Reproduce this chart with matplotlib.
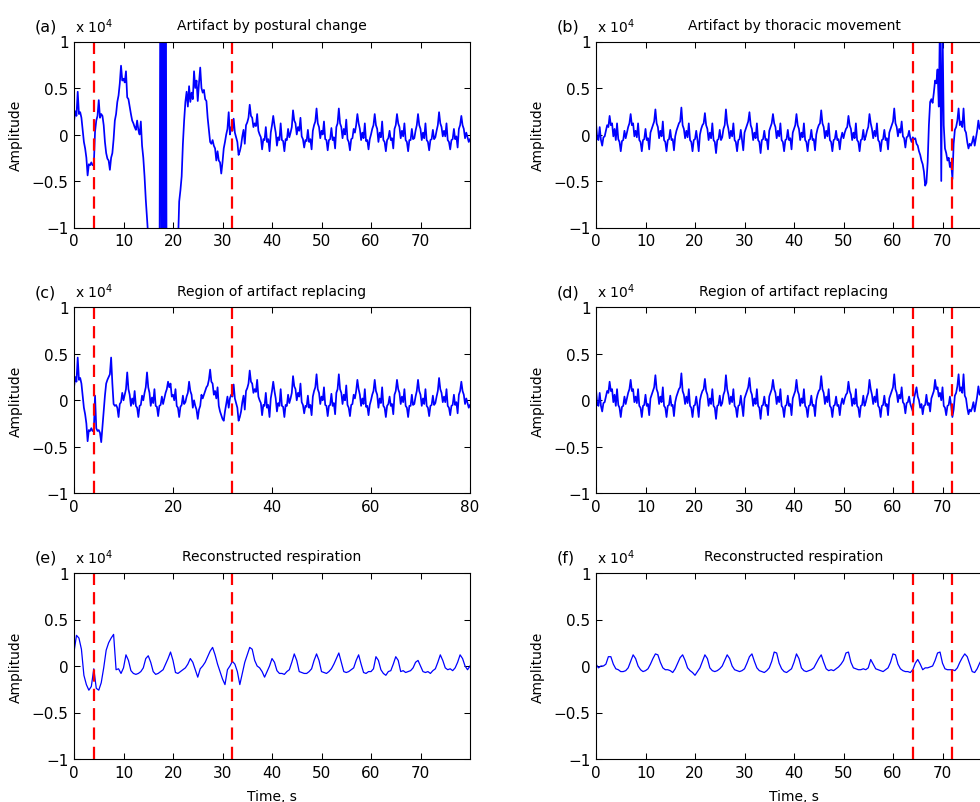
import matplotlib
matplotlib.use("Agg")
import matplotlib.pyplot as plt
import numpy as np

# amplitudes are in hundredths of 1e4 (plot units x 100), sampled every STEP s
STEP = 0.25
RESP_STEP = 0.5

# (a)/(c): shared head 0-4 s, artifact 4-32 s, shared tail 32-80 s
POSTURE_HEAD = [14, 25, 20, 46, 22, 24, 18, 5, -8, -15, -25, -44, -32, -33, -30, -33]
POSTURE_ART = [
    -33, 3, 15, 20, 37, 18, 22, 20,
    10, -8, -20, -26, -28, -38, -25, -20,
    -5, 15, 22, 35, 42, 55, 74, 58,
    60, 56, 68, 40, 38, 30, 22, 15,
    12, 8, 5, 15, 5, 0, 14, -12,
    -25, -45, -70, -90, -110, -140, -170, -200,
    -220, -240, -250, -250, -240, -200, 300, -300,
    300, -300, 300, -260, -260, -250, -240, -230,
    -220, -200, -180, -150, -120, -72, -60, -45,
    -10, 15, 35, 46, 30, 52, 35, 45,
    38, 68, 50, 58, 36, 55, 72, 50,
    45, 48, 38, 36, 18, 5, -8, -10,
    -6, -12, -15, -28, -18, -28, -30, -42,
    -30, -15, -8, 0, 6, 24, 0, 8,
]
POSTURE_FIX = [
    -33, 5, -30, -33, -32, -35, -45, -28,
    -12, 5, 18, 22, 25, 28, 46, 18,
    -4, -6, -5, -8, -18, -4, -2, 8,
    0, 6, 12, 30, 12, 6, -6, 2,
    -4, 10, -6, -8, -18, -6, -5, 5,
    0, 8, 14, 30, 14, 8, -6, 3,
    -3, 12, -6, -7, -17, -6, -5, 4,
    -4, 2, 8, 12, 20, 14, 18, 4,
    6, 0, 12, -6, -8, -18, -7, -5,
    5, -4, -2, 4, 8, 20, 10, 6,
    -8, 0, -6, -10, -20, -10, -6, 6,
    2, 6, 10, 14, 16, 22, 33, 20,
    18, 6, 10, 2, 14, -6, -12, -16,
    -20, -22, -12, -4, 4, -8, 2, 6,
]
POSTURE_TAIL = [
    4, 17, 2, -3, -8, -22, -18, -12,
    -2, 5, -10, 10, 13, 18, 32, 20,
    18, 8, 12, 9, 22, 4, 0, -3,
    -16, -5, -6, 8, -8, -5, -18, 2,
    10, 20, 10, 2, -12, -3, -6, 12,
    -6, -7, -18, -5, -6, 6, -3, 2,
    8, 26, 15, 12, 0, 8, 4, 18,
    -2, -5, -14, -6, -7, 5, -8, -5,
    -16, 4, 10, 14, 28, 12, 8, -4,
    4, 0, 14, -5, -6, -17, -6, -5,
    7, -6, -3, -15, 8, 12, 28, 12,
    8, -4, 6, 0, 16, -5, -8, -17,
    -5, -4, 6, 2, 10, 22, 12, 6,
    -6, 2, -4, 12, -7, -6, -16, -5,
    0, 6, 10, 22, 10, 6, -8, 2,
    -3, 14, -6, -8, -18, -6, -4, 4,
    -6, -4, -15, 6, 10, 22, 12, 8,
    -4, 4, -2, 12, -6, -8, -18, -6,
    -6, 6, -5, -4, 4, 10, 22, 10,
    6, -6, 2, -4, 12, -6, -8, -17,
    -6, -5, 5, -5, -3, 4, 10, 24,
    12, 8, -2, 4, -2, 12, -6, -8,
    -16, -6, -5, 6, -5, -2, -14, 6,
    10, 20, 10, 6, -4, 2, -3, -8,
    -5,
]

# (b)/(d): shared head 0-64 s, artifact 64-72 s, shared tail 72.25-80 s
THORAX_HEAD = [
    12, -4, -6, 8, -6, -12, -3, -2,
    4, 10, 8, 20, 10, 12, -2, 6,
    -6, 12, -5, -8, -18, -7, -6, 4,
    -4, 2, 8, 12, 22, 10, 12, -2,
    4, -3, 12, -6, -8, -18, -6, -5,
    6, -6, -4, -16, 2, 6, 10, 14,
    27, 12, 8, -4, 4, -2, 14, -6,
    -8, -18, -6, -5, 5, -6, -5, -17,
    -2, 4, 8, 12, 14, 29, 10, 6,
    -4, 4, -3, 12, -6, -8, -18, -6,
    -5, 4, -6, -18, 0, 6, 10, 12,
    23, 10, 6, -6, 2, -4, 12, -6,
    -8, -20, -6, -5, 5, -6, -3, 6,
    10, 27, 12, 6, -4, 4, -2, 12,
    -6, -8, -18, -6, -5, 5, -6, -17,
    2, 6, 10, 14, 24, 10, 6, -6,
    2, -4, 12, -6, -8, -20, -6, -5,
    4, -6, -5, -16, 4, 8, 12, 22,
    12, 8, -4, 4, -2, 12, -6, -8,
    -18, -6, -5, 5, -6, -4, -16, 2,
    6, 10, 22, 10, 6, -6, 2, -3,
    12, -6, -8, -18, -6, -5, 5, -6,
    -5, -17, 0, 6, 10, 12, 26, 12,
    8, -4, 4, -2, 12, -6, -8, -18,
    -6, -5, 4, -6, -5, -16, -4, 2,
    -4, 2, 6, 8, 20, 10, 6, -6,
    2, -4, 12, -6, -8, -18, -6, -5,
    5, -6, -2, 4, 8, 22, 12, 6,
    -4, 4, -2, 12, -6, -8, -18, -6,
    -5, 5, -6, -4, -16, 2, 6, 10,
    14, 28, 12, 8, -2, 6, 2, 14,
    -2, -4, -14, -3, -2, 4, -4, -8,
]
THORAX_ART = [
    -3, -5, -4, -10, -12, -18, -22, -28,
    -32, -40, -55, -52, -30, 10, 35, 38,
    34, 45, 58, 55, 70, 30, 130, -50,
    120, 10, -15, -20, -28, -25, -35, -30,
    -48,
]
THORAX_FIX = [
    -12, 2, 8, 14, 4, 0, -8, -4,
    -15, -6, -5, 6, -5, -3, -12, 2,
    6, 10, 22, 12, 14, 4, 8, 0,
    14, -6, -8, -16, -6, -5, 4, -6,
    -18,
]
THORAX_TAIL = [
    -10, 5, 8, 15, 28, 10, 14, 8,
    28, 5, 2, -8, -15, -10, -12, -8,
    -2, -12, -4, 4, 15, 6, 10, 14,
    22, 10, 4, -6, 8, -2, -12, -5,
]

# (e)/(f): reconstructed respiration, every RESP_STEP s from 0 to 80 s
RESP_POSTURE = [
    15, 33, 30, 18, -10, -20, -26, -22, -3, -24,
    -26, -18, -2, 17, 25, 30, 34, -4, -3, -8,
    -2, 12, 6, -5, -8, -9, -8, -6, -2, 8,
    11, 4, -6, -9, -8, -6, -4, 2, 8, 15,
    6, -7, -8, -6, -4, -2, 2, 8, 4, -4,
    -12, -3, 0, 4, 10, 16, 20, 12, 2, -6,
    -14, -20, -4, 0, 5, 2, -6, -20, -8, 4,
    12, 20, 18, 6, 0, -2, -6, -12, -6, 0,
    8, 4, -5, -8, -8, -9, -6, -4, 4, 13,
    6, -6, -7, -8, -8, -6, -3, 6, 13, 6,
    -6, -7, -8, -6, -3, 2, 8, 14, 4, -6,
    -7, -6, -4, -2, 6, 12, 2, -7, -8, -6,
    -6, -3, 10, 6, -4, -8, -10, -6, -5, 2,
    10, 6, -6, -5, -7, -6, -5, -2, 4, 6,
    0, -6, -7, -6, -8, -5, -3, 4, 12, 6,
    -2, -4, -3, -5, -2, 4, 12, 8, 0, -4,
    0,
]
RESP_THORAX = [
    2, -2, 0, 0, 2, 10, 10, 2, -3, -4,
    -6, -6, -5, -2, 5, 12, 8, 0, -4, -6,
    -5, -3, 2, 8, 13, 12, 4, -2, -4, -4,
    -5, -7, -3, 3, 9, 12, 6, -2, -5, -7,
    -10, -6, -2, 5, 12, 8, -2, -5, -6, -5,
    -3, 0, 6, 12, 8, 0, -4, -5, -6, -5,
    -3, 3, 10, 13, 5, -2, -5, -6, -7, -5,
    -2, 5, 15, 14, 3, -3, -6, -7, -5, -3,
    4, 13, 8, -2, -5, -6, -5, -4, -2, 3,
    8, 12, 4, -3, -5, -4, -5, -3, -1, 2,
    6, 14, 15, 4, -2, -3, -4, -4, -3, -4,
    -2, 7, 2, -3, -4, -5, -6, -4, -2, 4,
    13, 12, 2, -3, -5, -6, -6, -7, -4, 3,
    7, 2, -4, -2, -2, -1, 0, 6, 14, 15,
    3, -3, -4, -4, -4, -5, -2, 4, 9, 13,
    10, 2, -6, -7, -3, 3, 8, 12, 8, 0,
    -3,
]

POSTURE_MARKS = [4, 32]
THORAX_MARKS = [64, 72]

TITLES = [
    "Artifact by postural change", "Artifact by thoracic movement",
    "Region of artifact replacing", "Region of artifact replacing",
    "Reconstructed respiration", "Reconstructed respiration",
]
PANEL_TAGS = ["(a)", "(b)", "(c)", "(d)", "(e)", "(f)"]
Y_TICKS = [-1, -0.5, 0, 0.5, 1]
Y_TICK_LABELS = ["\u22121", "\u22120.5", "0", "0.5", "1"]
X_TICKS_10 = [0, 10, 20, 30, 40, 50, 60, 70]
X_TICKS_20 = [0, 20, 40, 60, 80]


def build(*segments, step=STEP):
    ts, ys = [], []
    for t0, vals in segments:
        vals = np.asarray(vals, dtype=float) / 100.0
        ts.append(t0 + step * np.arange(len(vals)))
        ys.append(vals)
    return np.concatenate(ts), np.concatenate(ys)


def style_axes(ax, tag, title, xticks):
    ax.set_xlim(0, 80)
    ax.set_ylim(-1, 1)
    ax.set_xticks(xticks)
    ax.set_xticklabels([str(v) for v in xticks])
    ax.set_yticks(Y_TICKS)
    ax.set_yticklabels(Y_TICK_LABELS)
    ax.tick_params(direction="in", top=True, right=True, length=4, width=0.75,
                   labelsize=11, pad=4)
    for sp in ax.spines.values():
        sp.set_linewidth(0.8)
    ax.set_title(title, fontsize=10, pad=9)
    ax.set_ylabel("Amplitude", fontsize=10)
    ax.yaxis.set_label_coords(-0.13, 0.5)
    ax.annotate(tag, xy=(0, 1), xycoords="axes fraction", xytext=(-39, 11),
                textcoords="offset pixels", ha="left", va="baseline", fontsize=11.5)
    ax.annotate(r"x 10$^{4}$", xy=(0, 1), xycoords="axes fraction", xytext=(1, 10),
                textcoords="offset pixels", ha="left", va="baseline", fontsize=10)


def main() -> None:
    panels = [
        build((0, POSTURE_HEAD), (4, POSTURE_ART), (32, POSTURE_TAIL)),
        build((0, THORAX_HEAD), (64, THORAX_ART), (72.25, THORAX_TAIL)),
        build((0, POSTURE_HEAD), (4, POSTURE_FIX), (32, POSTURE_TAIL)),
        build((0, THORAX_HEAD), (64, THORAX_FIX), (72.25, THORAX_TAIL)),
        build((0, RESP_POSTURE), step=RESP_STEP),
        build((0, RESP_THORAX), step=RESP_STEP),
    ]

    fig = plt.figure(figsize=(9.8, 8.03), dpi=100)
    col_left = [74 / 980, 596 / 980]
    row_bottom = [1 - 228.5 / 803, 1 - 494.3 / 803, 1 - 760 / 803]
    w, h = 396 / 980, 186 / 803

    for i, (t, y) in enumerate(panels):
        row, col = divmod(i, 2)
        ax = fig.add_axes([col_left[col], row_bottom[row], w, h])
        lw = 1.25 if row < 2 else 0.9
        ax.plot(t, y, color="#0000ff", linewidth=lw)
        for m in (POSTURE_MARKS if col == 0 else THORAX_MARKS):
            ax.axvline(m, color="#ff0000", linewidth=1.6, dashes=(5.5, 3.2))
        xticks = X_TICKS_20 if i == 2 else X_TICKS_10
        style_axes(ax, PANEL_TAGS[i], TITLES[i], xticks)
        if row == 2:
            ax.set_xlabel("Time, s", fontsize=10)
            ax.xaxis.set_label_coords(0.5, -0.16)

    fig.savefig("out.png", dpi=100)
    plt.close(fig)


if __name__ == "__main__":
    main()
